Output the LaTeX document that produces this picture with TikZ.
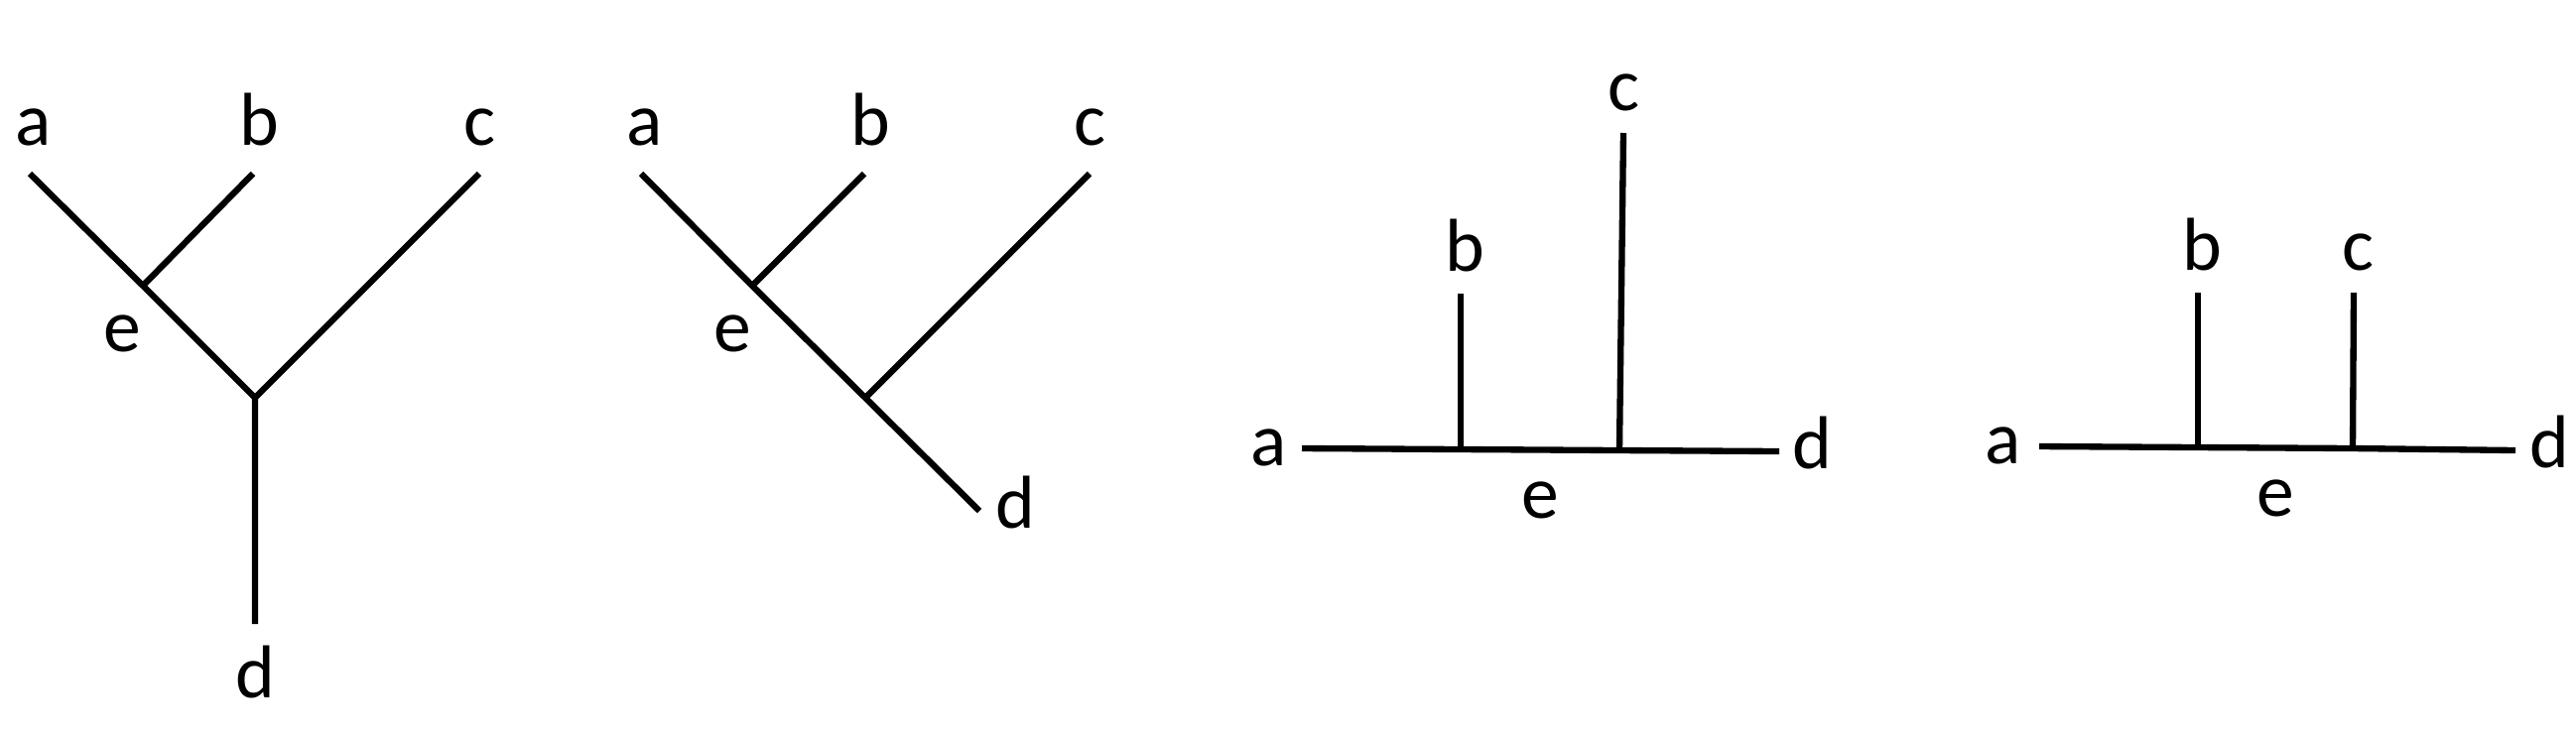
\documentclass[tikz,border=0pt]{standalone}
\usepackage{fontspec}
\setmainfont{Carlito}
\usepackage{tikz}
\usetikzlibrary{positioning}

\begin{document}
\begin{tikzpicture}[
        x=0.01cm, y=-0.01cm,
        branch/.style={line width=1.8pt},
        leaf/.style={inner sep=0pt, font=\fontsize{21.5}{25}\selectfont, text height=0.35cm, text depth=0pt}
    ]
    \useasboundingbox (0,0) rectangle (2596,744);

    % Tree 1
    \coordinate (ta1) at (30,175);
    \coordinate (tb1) at (255,175);
    \coordinate (tc1) at (483,175);
    \coordinate (j1) at (144,288);
    \coordinate (r1) at (257,401);
    \coordinate (td1) at (257,629);
    \node[leaf, above=0.28cm of ta1, xshift=0.04cm] (a1) {a};
    \node[leaf, above=0.28cm of tb1, xshift=0.06cm] (b1) {b};
    \node[leaf, above=0.28cm of tc1] (c1) {c};
    \node[leaf, below=0.39cm of td1] (d1) {d};
    \node[leaf, below left=0.31cm and 0.01cm of j1] (e1) {e};
    \draw[branch] (ta1) -- (j1) -- (r1) -- (td1);
    \draw[branch] (tb1) -- (j1);
    \draw[branch] (tc1) -- (r1);

    % Tree 2
    \coordinate (ta2) at (646,175);
    \coordinate (tb2) at (871,175);
    \coordinate (tc2) at (1098,175);
    \coordinate (j2) at (758,288);
    \coordinate (r2) at (872,401);
    \coordinate (td2) at (987,515);
    \node[leaf, above=0.28cm of ta2, xshift=0.04cm] (a2) {a};
    \node[leaf, above=0.28cm of tb2, xshift=0.06cm] (b2) {b};
    \node[leaf, above=0.28cm of tc2] (c2) {c};
    \node[leaf, right=0.16cm of td2] (d2) {d};
    \node[leaf, below left=0.31cm and 0cm of j2] (e2) {e};
    \draw[branch] (ta2) -- (j2) -- (r2) -- (td2);
    \draw[branch] (tb2) -- (j2);
    \draw[branch] (tc2) -- (r2);

    % Tree 3
    \coordinate (ta3) at (1312,452);
    \coordinate (jb3) at (1472,453);
    \coordinate (jc3) at (1632,454);
    \coordinate (td3) at (1793,455);
    \coordinate (tb3) at (1472,296);
    \coordinate (tc3) at (1636,134);
    \node[leaf, left=0.15cm of ta3] (a3) {a};
    \node[leaf, above=0.22cm of tb3, xshift=0.04cm] (b3) {b};
    \node[leaf, above=0.22cm of tc3] (c3) {c};
    \node[leaf, right=0.13cm of td3] (d3) {d};
    \draw[branch] (ta3) -- (jb3) -- (jc3) -- (td3);
    \draw[branch] (tb3) -- (jb3);
    \draw[branch] (tc3) -- (jc3);
    \path (jb3) -- node[leaf, below=0.33cm] (e3) {e} (jc3);

    % Tree 4
    \coordinate (ta4) at (2055,450);
    \coordinate (jb4) at (2215,451);
    \coordinate (jc4) at (2371,452);
    \coordinate (td4) at (2535,454);
    \coordinate (tb4) at (2215,295);
    \coordinate (tc4) at (2372,295);
    \node[leaf, left=0.18cm of ta4] (a4) {a};
    \node[leaf, above=0.22cm of tb4, xshift=0.04cm] (b4) {b};
    \node[leaf, above=0.22cm of tc4, xshift=0.04cm] (c4) {c};
    \node[leaf, right=0.14cm of td4] (d4) {d};
    \draw[branch] (ta4) -- (jb4) -- (jc4) -- (td4);
    \draw[branch] (tb4) -- (jb4);
    \draw[branch] (tc4) -- (jc4);
    \path (jb4) -- node[leaf, below=0.33cm] (e4) {e} (jc4);

\end{tikzpicture}
\end{document}
